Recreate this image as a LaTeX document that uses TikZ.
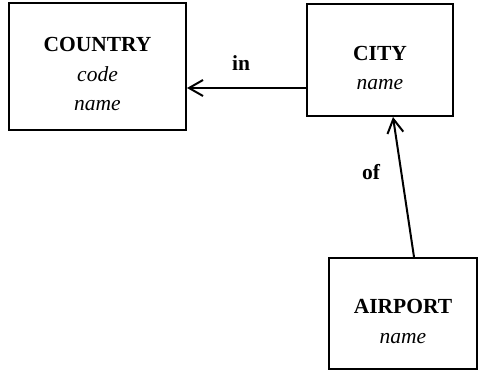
\documentclass[tikz,border=0pt]{standalone}
\usepackage{fontspec}
\setmainfont{Liberation Serif}
\usetikzlibrary{arrows.meta}
% entity title with extra room above it, which lowers the text block
\newcommand\entityhead[1]{\rule{0pt}{30pt}\textbf{#1}}
\begin{document}
\begin{tikzpicture}[x=1pt,y=-1pt,
  entity/.style={draw, line width=2pt, align=center, inner sep=0pt,
    font=\fontsize{21.5}{29.5}\selectfont},
  rel/.style={line width=2pt, -{Straight Barb[length=14pt,width=16pt,line width=2pt]}},
  rellabel/.style={font=\fontsize{21.5}{25}\selectfont\bfseries}]
\useasboundingbox (0,0) rectangle (478,371);
% entities
\node[entity, minimum width=177pt, minimum height=127pt] (country) at (97.5,66.5)
  {\entityhead{COUNTRY}\\\textit{code}\\\textit{name}};
\node[entity, minimum width=146pt, minimum height=112pt] (city) at (380,60)
  {\entityhead{CITY}\\\textit{name}};
\node[entity, minimum width=148pt, minimum height=111pt] (airport) at (403,313.5)
  {\entityhead{AIRPORT}\\\textit{name}};
% relationships
\coordinate (inStart) at ([yshift=-28pt]city.west);
\draw[rel] (inStart) -- (country.east |- inStart);
\draw[rel] ([xshift=11pt]airport.north) -- ([xshift=13pt]city.south);
\node[rellabel] (inlbl) at (241,63) {in};
\node[rellabel] (oflbl) at (371,172) {of};
\end{tikzpicture}
\end{document}
